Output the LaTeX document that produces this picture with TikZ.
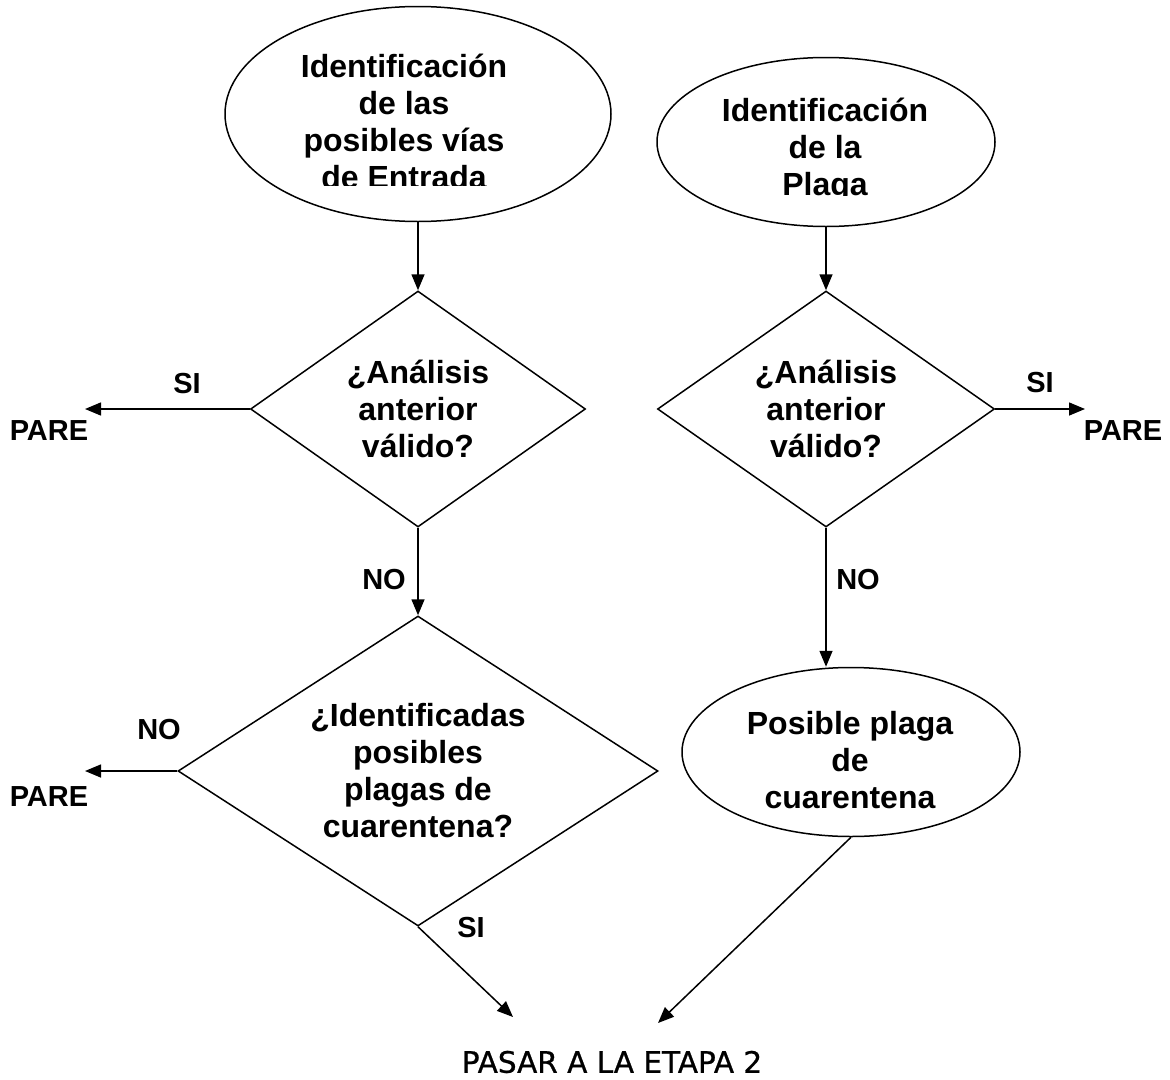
\documentclass[tikz,border=0pt]{standalone}
\usepackage{fontspec}
\setmainfont{Liberation Sans}
\newfontfamily\etapafont[FakeBold=0.8]{DejaVu Sans}
\usetikzlibrary{shapes.geometric,arrows.meta}

\begin{document}
\begin{tikzpicture}[x=1pt,y=-1pt,line width=1.5pt,
  >={Triangle[length=16pt,width=13pt]},
  txt/.style={align=center,inner sep=0pt,font=\bfseries\fontsize{32}{37}\selectfont},
  lbl/.style={inner sep=0pt,font=\bfseries\fontsize{29}{32}\selectfont},
  elip/.style={draw,ellipse,inner sep=0pt},
  rombo/.style={draw,diamond,inner sep=0pt}]
\useasboundingbox (0,0) rectangle (1170,1079);
% elipses de arriba (texto recortado)
\node[elip,minimum width=386pt,minimum height=215pt] (vias) at (418,114) {};
\node[elip,minimum width=338pt,minimum height=169pt] (plaga) at (826,142) {};
\begin{scope}
\clip (220,0) rectangle (615,185);
\node[txt,anchor=north] (viastxt) at (404,53) {Identificación\\de las\\posibles vías\\de Entrada};
\end{scope}
\begin{scope}
\clip (650,50) rectangle (1000,195);
\node[txt,anchor=north] (plagatxt) at (825,97) {Identificación\\de la\\Plaga};
\end{scope}
% decisiones
\node[rombo,txt,aspect=1.4,minimum width=335pt,minimum height=236pt] (validoA) at (418,409) {¿Análisis\\anterior\\válido?};
\node[rombo,txt,aspect=1.4,minimum width=337pt,minimum height=236pt] (validoB) at (826,409) {¿Análisis\\anterior\\válido?};
\node[rombo,txt,aspect=1.55,minimum width=480pt,minimum height=310pt] (identif) at (418,771) {¿Identificadas\\posibles\\plagas de\\cuarentena?};
\node[elip,minimum width=338pt,minimum height=169pt] (posible) at (851,752) {};
\node[txt] (posibletxt) at (850,760) {Posible plaga\\de\\cuarentena};
% extremos sueltos
\coordinate (pareAtip) at (85,409);
\coordinate (pareBtip) at (1085,409);
\coordinate (pareCtip) at (85,771);
\coordinate (etapaA) at (513,1017);
\coordinate (etapaB) at (658,1023);
% etiquetas
\node[lbl] (siA) at (187,384) {SI};
\node[lbl] (pareA) at (49,431) {PARE};
\node[lbl] (siB) at (1040,383) {SI};
\node[lbl] (pareB) at (1123,431) {PARE};
\node[lbl] (noA) at (384,580) {NO};
\node[lbl] (noB) at (858,580) {NO};
\node[lbl] (noC) at (159,730) {NO};
\node[lbl] (pareC) at (49,797) {PARE};
\node[lbl] (siC) at (471,928) {SI};
\node[inner sep=0pt,font=\etapafont\fontsize{29.5}{34}\selectfont] (etapa) at (612,1062) {PASAR A LA ETAPA 2};
\path[->]
(vias.south) edge (validoA.north)
(plaga.south) edge (validoB.north)
(validoA.west) edge (pareAtip)
(validoB.east) edge (pareBtip)
(validoA.south) edge (identif.north)
(validoB.south) edge (validoB.south |- posible.north)
(identif.west) edge (pareCtip)
(identif.south) edge (etapaA)
(posible.south) edge (etapaB);
\end{tikzpicture}
\end{document}
